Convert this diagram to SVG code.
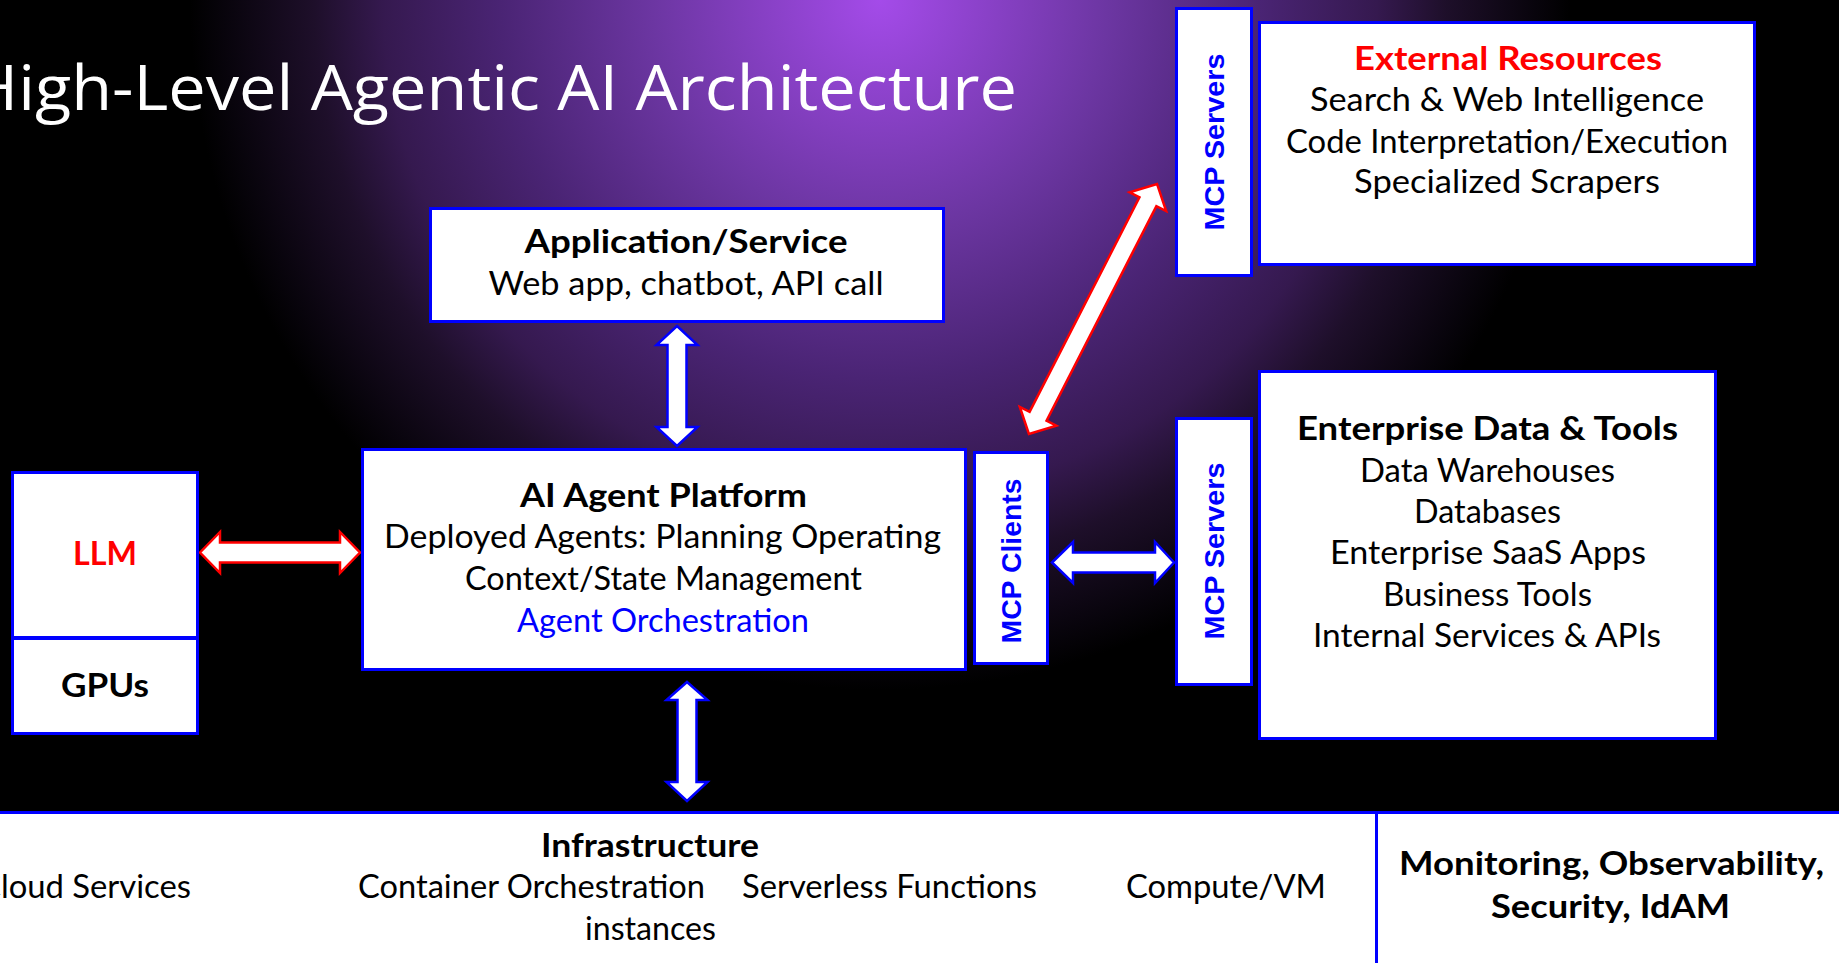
<svg xmlns="http://www.w3.org/2000/svg" width="1839" height="963" viewBox="0 0 1839 963">
  <defs>
    <radialGradient id="glow" gradientUnits="userSpaceOnUse" cx="880" cy="0" r="690">
      <stop offset="0" stop-color="#a44be9"/>
      <stop offset="0.33" stop-color="#6c36a2"/>
      <stop offset="0.55" stop-color="#4a2474"/>
      <stop offset="0.72" stop-color="#35194f"/>
      <stop offset="0.82" stop-color="#1e0f2a"/>
      <stop offset="0.95" stop-color="#08040c"/>
      <stop offset="1" stop-color="#000000"/>
    </radialGradient>
    <style>
      .box { fill: #ffffff; stroke: #0000ff; stroke-width: 3; }
      .t { font-family: Lato, "Open Sans", sans-serif; font-size: 32px; fill: #000000; text-anchor: middle; }
      .b { font-weight: 700; }
      .red { fill: #ff0000; }
      .blue { fill: #0000ff; }
      .mcp { font-family: "Liberation Sans", Arial, sans-serif; font-weight: 700; font-size: 28px; fill: #0000ff; text-anchor: middle; }
      .title { font-family: "Open Sans", "Noto Sans", sans-serif; font-size: 63px; fill: #ffffff; }
      .arrB { fill: #ffffff; stroke: #0000ff; stroke-width: 2.5; }
      .arrR { fill: #ffffff; stroke: #ff0000; stroke-width: 2.5; }
    </style>
  </defs>

  <!-- background -->
  <rect x="0" y="0" width="1839" height="963" fill="#000000"/>
  <rect x="0" y="0" width="1839" height="963" fill="url(#glow)"/>

  <text class="title" x="-31" y="110" textLength="1048" lengthAdjust="spacingAndGlyphs">High-Level Agentic AI Architecture</text>

  <!-- connectors -->
  <g id="connectors">
    <!-- Application/Service <-> AI Agent Platform -->
    <polygon class="arrB" points="677,326 697.5,345 686.5,345 686.5,427 697.5,427 677,446 656.5,427 667.5,427 667.5,345 656.5,345"/>
    <!-- AI Agent Platform <-> Infrastructure -->
    <polygon class="arrB" points="687,682 707.5,700 696.5,700 696.5,782 707.5,782 687,801 666.5,782 677.5,782 677.5,700 666.5,700"/>
    <!-- LLM <-> AI Agent Platform -->
    <polygon class="arrR" points="200,552.5 220,532 220,542.5 340,542.5 340,532 360,552.5 340,573 340,562.5 220,562.5 220,573"/>
    <!-- MCP Clients <-> MCP Servers (enterprise) -->
    <polygon class="arrB" points="1052,562.5 1073,542 1073,552.5 1155,552.5 1155,542 1174,562.5 1155,583 1155,572.5 1073,572.5 1073,583"/>
    <!-- MCP Clients <-> MCP Servers (external) -->
    <polygon class="arrR" transform="translate(1093,309) rotate(-62.89)" points="-140.5,0 -120.5,-20.5 -120.5,-9.5 120.5,-9.5 120.5,-20.5 140.5,0 120.5,20.5 120.5,9.5 -120.5,9.5 -120.5,20.5"/>
  </g>

  <g id="app-service">
    <rect class="box" x="430.5" y="208.5" width="513" height="113"/>
    <text class="t b" x="686" y="253" textLength="323" lengthAdjust="spacingAndGlyphs">Application/Service</text>
    <text class="t" x="686" y="295" textLength="395" lengthAdjust="spacingAndGlyphs">Web app, chatbot, API call</text>
  </g>

  <g id="ai-agent-platform">
    <rect class="box" x="362.5" y="449.5" width="603" height="220"/>
    <text class="t b" x="663.5" y="507" textLength="287" lengthAdjust="spacingAndGlyphs">AI Agent Platform</text>
    <text class="t" x="662.5" y="548" textLength="557" lengthAdjust="spacingAndGlyphs">Deployed Agents: Planning Operating</text>
    <text class="t" x="663.5" y="590" textLength="397" lengthAdjust="spacingAndGlyphs">Context/State Management</text>
    <text class="t blue" x="663" y="632" textLength="292" lengthAdjust="spacingAndGlyphs">Agent Orchestration</text>
  </g>

  <g id="mcp-clients">
    <rect class="box" x="974.5" y="452.5" width="73" height="211"/>
    <text class="mcp" transform="translate(1021,561) rotate(-90)" textLength="165" lengthAdjust="spacingAndGlyphs">MCP Clients</text>
  </g>

  <g id="mcp-servers-external">
    <rect class="box" x="1176.5" y="8.5" width="75" height="267"/>
    <text class="mcp" transform="translate(1224,142) rotate(-90)" textLength="177" lengthAdjust="spacingAndGlyphs">MCP Servers</text>
  </g>

  <g id="external-resources">
    <rect class="box" x="1259.5" y="22.5" width="495" height="242"/>
    <text class="t b red" x="1508" y="70" textLength="308" lengthAdjust="spacingAndGlyphs">External Resources</text>
    <text class="t" x="1507" y="111" textLength="394" lengthAdjust="spacingAndGlyphs">Search &amp; Web Intelligence</text>
    <text class="t" x="1507" y="153" textLength="442" lengthAdjust="spacingAndGlyphs">Code Interpretation/Execution</text>
    <text class="t" x="1507" y="193" textLength="306" lengthAdjust="spacingAndGlyphs">Specialized Scrapers</text>
  </g>

  <g id="mcp-servers-enterprise">
    <rect class="box" x="1176.5" y="418.5" width="75" height="266"/>
    <text class="mcp" transform="translate(1224,551) rotate(-90)" textLength="177" lengthAdjust="spacingAndGlyphs">MCP Servers</text>
  </g>

  <g id="enterprise-data-tools">
    <rect class="box" x="1259.5" y="371.5" width="456" height="367"/>
    <text class="t b" x="1487.5" y="440" textLength="381" lengthAdjust="spacingAndGlyphs">Enterprise Data &amp; Tools</text>
    <text class="t" x="1487.5" y="482" textLength="255" lengthAdjust="spacingAndGlyphs">Data Warehouses</text>
    <text class="t" x="1487.5" y="523" textLength="147" lengthAdjust="spacingAndGlyphs">Databases</text>
    <text class="t" x="1488" y="564" textLength="316" lengthAdjust="spacingAndGlyphs">Enterprise SaaS Apps</text>
    <text class="t" x="1487.5" y="606" textLength="209" lengthAdjust="spacingAndGlyphs">Business Tools</text>
    <text class="t" x="1487" y="647" textLength="348" lengthAdjust="spacingAndGlyphs">Internal Services &amp; APIs</text>
  </g>

  <g id="llm">
    <rect class="box" x="12.5" y="472.5" width="185" height="165"/>
    <text class="t b red" x="105" y="565" textLength="64" lengthAdjust="spacingAndGlyphs">LLM</text>
  </g>

  <g id="gpus">
    <rect class="box" x="12.5" y="638.5" width="185" height="95"/>
    <text class="t b" x="105" y="697" textLength="88" lengthAdjust="spacingAndGlyphs">GPUs</text>
  </g>

  <g id="infrastructure">
    <rect class="box" x="-5" y="812.5" width="1381.5" height="160"/>
    <text class="t b" x="650" y="857" textLength="218" lengthAdjust="spacingAndGlyphs">Infrastructure</text>
    <text class="t" x="-21" y="898" text-anchor="start" style="text-anchor:start" textLength="212" lengthAdjust="spacingAndGlyphs">Cloud Services</text>
    <text class="t" x="531.5" y="898" textLength="347" lengthAdjust="spacingAndGlyphs">Container Orchestration</text>
    <text class="t" x="889.5" y="898" textLength="295" lengthAdjust="spacingAndGlyphs">Serverless Functions</text>
    <text class="t" x="1226" y="898" textLength="200" lengthAdjust="spacingAndGlyphs">Compute/VM</text>
    <text class="t" x="650.5" y="940" textLength="131" lengthAdjust="spacingAndGlyphs">instances</text>
  </g>

  <g id="monitoring">
    <rect class="box" x="1376.5" y="812.5" width="470" height="160"/>
    <text class="t b" x="1611.5" y="875" textLength="425" lengthAdjust="spacingAndGlyphs">Monitoring, Observability,</text>
    <text class="t b" x="1610.5" y="918" textLength="239" lengthAdjust="spacingAndGlyphs">Security, IdAM</text>
  </g>
</svg>
